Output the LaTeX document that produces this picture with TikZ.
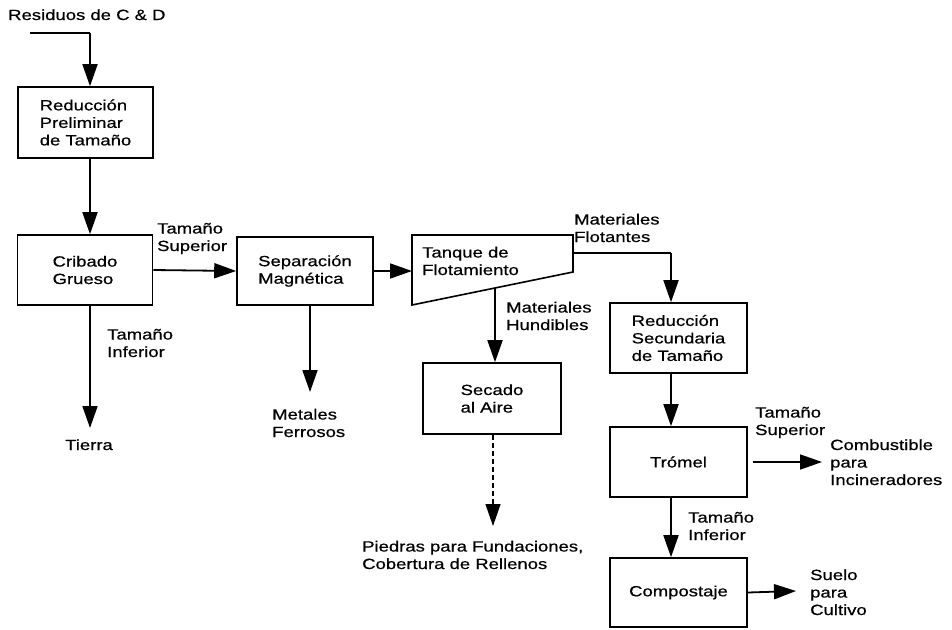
\documentclass[tikz,border=0pt]{standalone}
\usepackage{fontspec}
\setmainfont[FakeStretch=1.25,FakeBold=0.6]{Liberation Sans}
\usetikzlibrary{arrows.meta}
\begin{document}
\begin{tikzpicture}[x=1pt,y=-1pt,
  every node/.style={font=\fontsize{14.8}{17.5}\selectfont},
  box/.style={draw, line width=1.6pt, align=left, inner sep=0pt},
  lbl/.style={align=left, anchor=base west, inner sep=0pt},
  flow/.style={line width=1.8pt, -{Triangle[length=22pt,width=15pt]}},
  dflow/.style={line width=1.3pt, dash pattern=on 5pt off 3pt, -{Triangle[length=22pt,width=15pt]}},
]
\useasboundingbox (0,0) rectangle (952,629);

% column coordinates
\coordinate (xL) at (90,0);
\coordinate (xM) at (310,0);
\coordinate (xR) at (671,0);

% title and input
\node[lbl] (title) at (8,20) {Residuos de C \& D};
\coordinate (in0) at (30,33);

% boxes
\node[box, minimum width=135pt, minimum height=71pt] (b1) at (85.5,122.5) {Reducción\\Preliminar\\de Tamaño};
\node[box, minimum width=135pt, minimum height=70pt] (crib) at (85,270) {Cribado\\Grueso};
\node[box, minimum width=136pt, minimum height=68pt] (sep) at (305,271) {Separación\\Magnética};
\node[box, minimum width=138pt, minimum height=71pt] (sec) at (492,398.5) {Secado\\al Aire};
\node[box, minimum width=137pt, minimum height=70pt] (red2) at (678.5,338) {Reducción\\Secundaria\\de Tamaño};
\node[box, minimum width=137pt, minimum height=70pt] (trom) at (678.5,462) {Trómel};
\node[box, minimum width=137pt, minimum height=69pt] (comp) at (678.5,592.5) {Compostaje};

% flotation tank
\draw[line width=1.6pt, line join=miter] (412,235) -- (573,235) -- (573,272) -- (412,305) -- cycle;
\node[lbl] (tank) at (422,275) {Tanque de\\Flotamiento};
\coordinate (tkL) at (412,271);
\coordinate (tkR) at (573,253);
\coordinate (tkB) at (495,288);

% labels (base = baseline of last line)
\node[lbl] (ts1) at (157,251) {Tamaño\\Superior};
\node[lbl] (ti1) at (107,357) {Tamaño\\Inferior};
\node[lbl] (tierra) at (65,450) {Tierra};
\node[lbl] (metal) at (272,437) {Metales\\Ferrosos};
\node[lbl] (flot) at (574,242) {Materiales\\Flotantes};
\node[lbl] (hund) at (506,330) {Materiales\\Hundibles};
\node[lbl] (piedra) at (362,569) {Piedras para Fundaciones,\\Cobertura de Rellenos};
\node[lbl] (ts2) at (755,435) {Tamaño\\Superior};
\node[lbl] (comb) at (830,485) {Combustible\\para\\Incineradores};
\node[lbl] (ti2) at (688,540) {Tamaño\\Inferior};
\node[lbl] (suelo) at (810,615) {Suelo\\para\\Cultivo};

% arrow tips (free ends)
\coordinate (tTierra) at (90,428);
\coordinate (tMetal) at (310,392);
\coordinate (tPiedra) at (493,526);
\coordinate (tComb) at (822,462);
\coordinate (tSuelo) at (796,591);

% connectors
\draw[line width=1.8pt] (in0) -- (in0 -| xL);
\draw[flow] (in0 -| xL) -- (b1.north -| xL);
\draw[flow] (b1.south -| xL) -- (crib.north -| xL);
\draw[flow] (crib.south -| xL) -- (tTierra);
\draw[flow] (crib.east) -- (sep.west);
\draw[flow] (sep.south -| xM) -- (tMetal);
\draw[flow] (sep.east) -- (tkL);
\draw[line width=1.8pt] (tkR) -- (tkR -| xR);
\draw[flow] (tkR -| xR) -- (red2.north -| xR);
\draw[flow] (tkB) -- (tkB |- sec.north);
\draw[dflow] (sec.south -| tPiedra) -- (tPiedra);
\draw[flow] (red2.south -| xR) -- (trom.north -| xR);
\draw[flow] ([xshift=5pt]trom.east) -- (tComb);
\draw[flow] (trom.south -| xR) -- (comp.north -| xR);
\draw[flow] (comp.east) -- (tSuelo);
\end{tikzpicture}
\end{document}
